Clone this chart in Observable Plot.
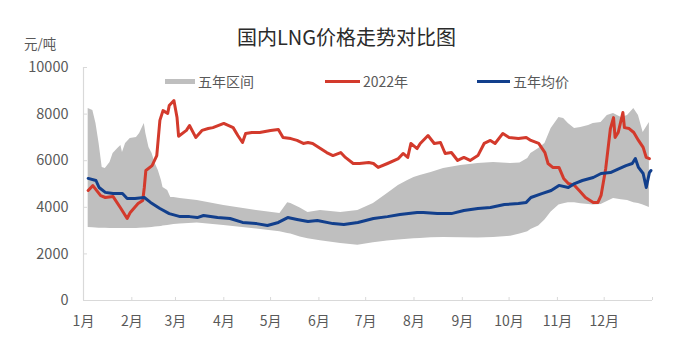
<!DOCTYPE html>
<html><head><meta charset="utf-8">
<script src="https://cdn.jsdelivr.net/npm/d3@7"></script>
<script src="https://cdn.jsdelivr.net/npm/@observablehq/plot@0.6"></script>
<style>
body{margin:0;background:#fff;}
#wrap{position:relative;width:693px;height:358px;font-family:"Noto Sans CJK SC","Noto Sans",sans-serif;}
#chart{position:absolute;left:0;top:0;}
#title{position:absolute;left:0;width:693px;top:24px;text-align:center;font-size:20px;line-height:26px;color:#2b2b2b;}
#unit{position:absolute;left:24px;top:34px;font-size:13.5px;line-height:18px;color:#595959;}
.leg{position:absolute;top:72px;height:18px;font-size:14px;line-height:18px;color:#595959;display:flex;align-items:center;white-space:nowrap;}
.sw{display:inline-block;margin-right:3px;}
</style></head>
<body><div id="wrap"><div id="chart"></div>
<div id="title">国内LNG价格走势对比图</div>
<div id="unit">元/吨</div>
</div>
<script>
// ---- data ----
const monthLabels = ["1月","2月","3月","4月","5月","6月","7月","8月","9月","10月","11月","12月"];
const yTicks = [0, 2000, 4000, 6000, 8000, 10000];
const seriesNames = ["五年区间", "2022年", "五年均价"];
const seriesColors = ["#bfbfbf", "#d33a2c", "#123f8c"];

// 2022 price: [month-day, 元/吨]
const price2022 = [
 ["01-04",4720],["01-07",4930],["01-12",4500],["01-15",4420],["01-20",4460],["01-25",3950],["01-29",3520],["01-31",3780],
 ["02-05",4160],["02-08",4290],["02-09",4850],["02-10",5580],["02-14",5790],["02-17",6220],["02-19",7730],["02-21",8150],
 ["02-24",8030],["02-25",8370],["02-28",8580],["03-02",7850],["03-03",7050],["03-08",7300],["03-10",7510],["03-14",7000],
 ["03-18",7300],["03-22",7380],["03-25",7420],["04-01",7600],["04-07",7420],["04-10",7080],["04-13",6780],["04-15",7170],
 ["04-19",7210],["04-24",7210],["05-01",7300],["05-06",7340],["05-09",7000],["05-14",6950],["05-18",6870],["05-22",6740],
 ["05-25",6780],["05-28",6740],["06-02",6520],["06-06",6350],["06-10",6220],["06-15",6350],["06-18",6140],["06-23",5880],
 ["06-27",5880],["07-03",5920],["07-06",5880],["07-09",5710],["07-15",5880],["07-22",6090],["07-25",6310],["07-28",6140],
 ["07-30",6740],["08-03",6520],["08-05",6740],["08-10",7080],["08-14",6740],["08-18",6780],["08-21",6310],["08-25",6350],
 ["08-29",6010],["09-02",6140],["09-06",6010],["09-11",6220],["09-15",6740],["09-19",6870],["09-22",6740],["09-27",7170],
 ["10-01",7000],["10-07",6950],["10-12",7000],["10-15",6870],["10-20",6740],["10-24",6350],["10-26",5880],["10-29",5710],
 ["11-02",5710],["11-05",5240],["11-08",5020],["11-12",4940],["11-15",4720],["11-19",4420],["11-24",4210],["11-27",4210],
 ["11-29",4510],["12-02",5670],["12-05",7380],["12-07",7850],["12-08",7000],["12-10",7210],["12-13",8070],["12-14",7420],
 ["12-17",7380],["12-20",7210],["12-23",6870],["12-26",6570],["12-28",6140],["12-30",6090]
];

// five-year average: [month-day, 元/吨]
const avg5y = [
 ["01-04",5240],["01-09",5150],["01-11",4850],["01-15",4640],["01-20",4590],["01-26",4590],["01-29",4380],["02-03",4380],
 ["02-09",4420],["02-13",4210],["02-19",3950],["02-25",3730],["03-04",3600],["03-10",3600],["03-15",3560],["03-19",3650],
 ["03-28",3560],["04-05",3520],["04-13",3350],["04-22",3300],["04-29",3220],["05-06",3350],["05-12",3560],["05-18",3480],
 ["05-25",3390],["05-31",3430],["06-10",3300],["06-17",3260],["06-26",3350],["07-06",3520],["07-15",3600],["07-23",3690],
 ["08-03",3780],["08-07",3780],["08-16",3730],["08-25",3730],["09-02",3860],["09-11",3950],["09-19",3990],["09-28",4120],
 ["10-07",4160],["10-12",4210],["10-15",4420],["10-22",4590],["10-28",4720],["11-02",4940],["11-08",4850],["11-12",5020],
 ["11-17",5150],["11-24",5280],["11-29",5450],["12-05",5490],["12-11",5670],["12-15",5790],["12-19",5880],["12-21",6090],
 ["12-23",5710],["12-26",5450],["12-28",4850],["12-30",5490],["12-31",5580]
];

// five-year range
const bandDates = ["01-04","01-07","01-09","01-11","01-13","01-15","01-18","01-20","01-23","01-25","01-26","01-28","01-31",
 "02-04","02-06","02-09","02-10","02-12","02-14","02-16","02-18","02-20","02-21","02-24","02-26","02-28","03-04","03-15",
 "04-01","04-22","05-07","05-12","05-14","05-20","05-25","06-02","06-15","06-26","07-06","07-15","07-22","07-28","08-01",
 "08-05","08-12","08-20","08-31","09-11","09-21","10-02","10-08","10-13","10-15","10-20","10-24","10-28","11-02","11-05",
 "11-08","11-12","11-16","11-21","11-24","11-29","12-03","12-07","12-12","12-16","12-20","12-23","12-26","12-30"];
const bandHigh = [8240,8150,7600,6740,5710,5670,5920,6310,6520,6650,6350,6740,6950,
 7000,7170,7600,7170,6570,6310,5880,5580,5150,4850,4720,4420,4420,4380,4290,
 4080,3860,3730,4200,4160,3970,3780,3860,3780,3860,4160,4590,4940,5150,5280,
 5370,5490,5670,5790,5880,5920,5880,5900,6090,6310,6520,6740,7380,7850,7810,
 7600,7380,7420,7510,7600,7640,7940,8030,7850,7940,8240,7940,7210,7640];
const bandLow = [3130,3120,3110,3100,3100,3100,3090,3090,3090,3090,3090,3090,3090,
 3090,3100,3110,3110,3120,3130,3150,3170,3180,3200,3220,3240,3260,3280,3330,
 3220,3070,2950,2880,2850,2720,2650,2560,2450,2370,2480,2550,2600,2630,2650,
 2660,2690,2700,2690,2680,2700,2760,2850,2950,3050,3200,3450,3800,4100,4150,
 4200,4200,4150,4120,4100,4120,4250,4380,4320,4290,4200,4160,4100,3990];

// ---- build tables ----
const toDate = md => new Date("2022-" + md + "T00:00:00Z");
const redData = price2022.map(([d, v]) => ({date: toDate(d), value: v}));
const blueData = avg5y.map(([d, v]) => ({date: toDate(d), value: v}));
const band = bandDates.map((d, i) => ({date: toDate(d), hi: bandHigh[i], lo: bandLow[i]}));
const monthTicks = d3.utcMonths(new Date(Date.UTC(2022,0,1)), new Date(Date.UTC(2023,0,2)));
const labelTicks = monthTicks.slice(0, 12);
const x0 = new Date(Date.UTC(2022,0,1));
const axisColor = "#d9d9d9";

const chart = Plot.plot({
  width: 693, height: 358,
  marginTop: 67, marginBottom: 58, marginLeft: 83, marginRight: 41,
  style: {fontFamily: '"Noto Sans CJK SC","Noto Sans",sans-serif', fontSize: "14px", color: "#595959", background: "transparent"},
  x: {type: "utc", domain: [x0, new Date(Date.UTC(2023,0,1))]},
  y: {domain: [0, 10000]},
  marks: [
    Plot.areaY(band, {x: "date", y1: "lo", y2: "hi", fill: seriesColors[0]}),
    Plot.line(redData, {x: "date", y: "value", stroke: seriesColors[1], strokeWidth: 3, strokeLinejoin: "round"}),
    Plot.line(blueData, {x: "date", y: "value", stroke: seriesColors[2], strokeWidth: 3, strokeLinejoin: "round"}),
    Plot.ruleY([0], {stroke: axisColor, strokeWidth: 1.2}),
    Plot.ruleX([x0], {stroke: axisColor, strokeWidth: 1.2}),
    Plot.ruleX(monthTicks, {x: d => d, y1: 0, y2: 0, insetTop: -3, stroke: axisColor}),
    Plot.ruleY(yTicks, {y: d => d, x1: x0, x2: x0, insetRight: -4, stroke: axisColor}),
    Plot.axisY({ticks: yTicks, tickSize: 0, tickPadding: 15, tickFormat: d3.format("d"), fontSize: 14.5, fill: "#595959"}),
    Plot.axisX({ticks: labelTicks, tickSize: 0, tickPadding: 16, tickFormat: d => monthLabels[d.getUTCMonth()], fontSize: 14, fill: "#595959"})
  ]
});
document.getElementById("chart").appendChild(chart);

// legend
const wrap = document.getElementById("wrap");
const legendPos = [165, 325, 477];
const swatchW = [30, 35, 33];
seriesNames.forEach((name, i) => {
  const el = document.createElement("div");
  el.className = "leg";
  el.style.left = legendPos[i] + "px";
  const sw = document.createElement("span");
  sw.className = "sw";
  sw.style.width = swatchW[i] + "px";
  sw.style.height = (i === 0 ? 5 : 3) + "px";
  sw.style.background = seriesColors[i];
  el.appendChild(sw);
  el.appendChild(document.createTextNode(name));
  wrap.appendChild(el);
});
</script>
</body></html>
